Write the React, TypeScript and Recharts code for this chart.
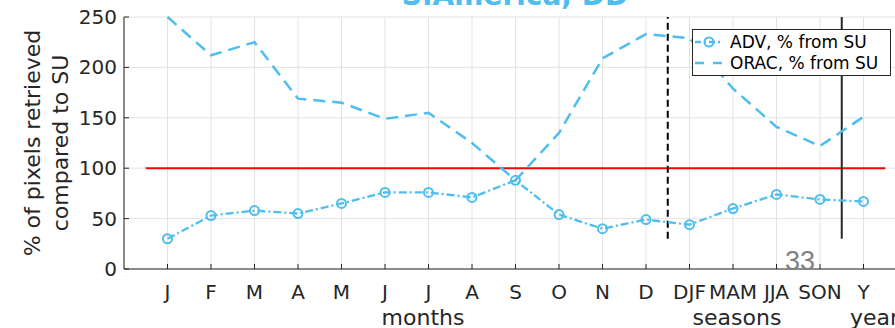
import React from 'react';
import { CartesianGrid, Line, LineChart, ReferenceLine, XAxis, YAxis } from 'recharts';

const categories = ['J', 'F', 'M', 'A', 'M', 'J', 'J', 'A', 'S', 'O', 'N', 'D', 'DJF', 'MAM', 'JJA', 'SON', 'Y'];
const advValues = [30, 53, 58, 55, 65, 76, 76, 71, 88, 54, 40, 49, 44, 60, 74, 69, 67];
const oracValues = [250, 212, 225, 169, 165, 149, 155, 125, 88, 135, 209, 233, 229, 179, 141, 122, 151];
const xTicks = [1, 2, 3, 4, 5, 6, 7, 8, 9, 10, 11, 12, 13, 14, 15, 16, 17];
const yTicks = [0, 50, 100, 150, 200, 250];

const data = categories.map((label, i) => ({ x: i + 1, label, adv: advValues[i], orac: oracValues[i] }));

const BLUE = '#4DBEEE';
const INK = '#262626';
const FONT = '"DejaVu Sans", sans-serif';

function BottomTick({ x, y, payload }: any) {
  return (
    <g>
      <line x1={x} x2={x} y1={y} y2={y - 5} stroke={INK} strokeWidth={1} />
      <text x={x} y={y + 30} textAnchor="middle" fontSize={20} fontFamily={FONT} fill={INK}>
        {categories[payload.value - 1]}
      </text>
    </g>
  );
}

function TopTick({ x, y }: any) {
  return <line x1={x} x2={x} y1={y} y2={y + 5} stroke={INK} strokeWidth={1} />;
}

function LeftTick({ x, y, payload }: any) {
  return (
    <g>
      <line x1={x} x2={x + 5} y1={y} y2={y} stroke={INK} strokeWidth={1} />
      <text x={x - 7} y={y + 7} textAnchor="end" fontSize={20} fontFamily={FONT} fill={INK}>
        {payload.value}
      </text>
    </g>
  );
}

export default function App() {
  return (
    <div style={{ position: 'fixed', left: 0, top: 0, width: 895, height: 328, overflow: 'hidden', background: '#fff' }}>
      <LineChart width={930} height={328} data={data} margin={{ top: 17, right: 23, bottom: 0, left: 0 }}>
        <CartesianGrid stroke="#e3e3e3" strokeWidth={1} />
        <XAxis
          dataKey="x"
          type="number"
          domain={[0, 18]}
          ticks={xTicks}
          height={59}
          tickSize={0}
          tickMargin={0}
          tickLine={false}
          axisLine={{ stroke: INK, strokeWidth: 1 }}
          tick={<BottomTick />}
          interval={0}
        />
        <XAxis
          xAxisId="top"
          orientation="top"
          dataKey="x"
          type="number"
          domain={[0, 18]}
          ticks={xTicks}
          height={0}
          tickSize={0}
          tickMargin={0}
          tickLine={false}
          axisLine={{ stroke: '#555', strokeWidth: 1 }}
          tick={<TopTick />}
          interval={0}
        />
        <YAxis
          type="number"
          domain={[0, 250]}
          ticks={yTicks}
          width={124}
          tickSize={0}
          tickMargin={0}
          tickLine={false}
          axisLine={{ stroke: INK, strokeWidth: 1 }}
          tick={<LeftTick />}
          interval={0}
        />
        <ReferenceLine segment={[{ x: 0.5, y: 100 }, { x: 17.5, y: 100 }]} stroke="#ff0000" strokeWidth={2} />
        <ReferenceLine segment={[{ x: 12.5, y: 30 }, { x: 12.5, y: 250 }]} stroke="#000" strokeWidth={2} strokeDasharray="7 4" />
        <ReferenceLine segment={[{ x: 16.5, y: 30 }, { x: 16.5, y: 250 }]} stroke={INK} strokeWidth={2} />
        <Line
          dataKey="adv"
          stroke={BLUE}
          strokeWidth={2.3}
          strokeDasharray="8 3 2 3"
          dot={{ r: 4.5, fill: 'none', stroke: BLUE, strokeWidth: 2, strokeDasharray: '' }}
          isAnimationActive={false}
        />
        <Line dataKey="orac" stroke={BLUE} strokeWidth={2.5} strokeDasharray="12 7" dot={false} isAnimationActive={false} />
      </LineChart>
      <svg width={895} height={328} style={{ position: 'absolute', left: 0, top: 0, pointerEvents: 'none' }}>
        <text x={515} y={5} textAnchor="middle" fontSize={28} fontWeight="bold" fontFamily={FONT} fill={BLUE}>
          S.America, DD
        </text>
        <text transform="translate(40,143) rotate(-90)" textAnchor="middle" fontSize={22} fontFamily={FONT} fill={INK}>
          % of pixels retrieved
        </text>
        <text transform="translate(68,143) rotate(-90)" textAnchor="middle" fontSize={22} fontFamily={FONT} fill={INK}>
          compared to SU
        </text>
        <text x={423} y={325} textAnchor="middle" fontSize={22} fontFamily={FONT} fill={INK}>months</text>
        <text x={737} y={325} textAnchor="middle" fontSize={22} fontFamily={FONT} fill={INK}>seasons</text>
        <text x={850} y={325} textAnchor="start" fontSize={22} fontFamily={FONT} fill={INK}>year</text>
        <text x={800} y={270} textAnchor="middle" fontSize={27} fontFamily='"Liberation Sans", Arial, sans-serif' fill="#808080">33</text>
        <g>
          <rect x={692.5} y={29.5} width={198} height={46} fill="#fff" stroke={INK} strokeWidth={1} />
          <line x1={695} x2={723} y1={42} y2={42} stroke={BLUE} strokeWidth={2.3} strokeDasharray="6 3 2 3" />
          <circle cx={709} cy={42} r={4.5} fill="none" stroke={BLUE} strokeWidth={2} />
          <text x={730} y={48} fontSize={17} fontFamily={FONT} fill="#000">ADV, % from SU</text>
          <line x1={695} x2={723} y1={63} y2={63} stroke={BLUE} strokeWidth={2.5} strokeDasharray="9 9" />
          <text x={730} y={69} fontSize={17} fontFamily={FONT} fill="#000">ORAC, % from SU</text>
        </g>
      </svg>
    </div>
  );
}
